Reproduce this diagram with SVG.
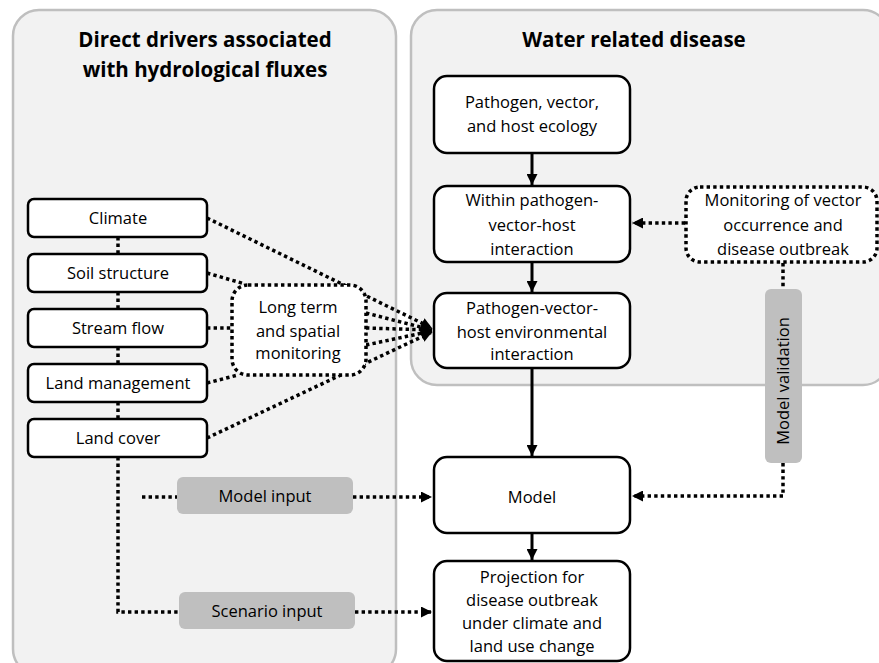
<svg xmlns="http://www.w3.org/2000/svg" width="879" height="663" viewBox="0 0 879 663">
<defs>
<style>
.panel{fill:#f2f2f2;stroke:#bfbfbf;stroke-width:2.5}
.box{fill:#fff;stroke:#000;stroke-width:2.5}
.dbox{fill:#fff;stroke:#000;stroke-width:3.5;stroke-dasharray:3.4 3.2}
.gbox{fill:#bfbfbf;stroke:none}
.t{font-family:"Open Sans","Noto Sans",sans-serif;font-size:16.5px;fill:#000;text-anchor:middle}
.h{font-family:"Open Sans","Noto Sans",sans-serif;font-size:20.5px;font-weight:bold;fill:#000;text-anchor:middle}
.solid{fill:none;stroke:#000;stroke-width:3}
.dot{fill:none;stroke:#000;stroke-width:3.5;stroke-dasharray:3.4 3.2}
</style>
<marker id="ah" viewBox="0 0 10 10" refX="10" refY="5" markerWidth="11" markerHeight="11" markerUnits="userSpaceOnUse" orient="auto">
<path d="M0,0 L10,5 L0,10 z" fill="#000"/>
</marker>
</defs>

<g id="panel-left">
<rect class="panel" x="13" y="10" width="383" height="665" rx="26"/>
<text class="h" x="205" y="47">Direct drivers associated</text>
<text class="h" x="205" y="77">with hydrological fluxes</text>
</g>
<g id="panel-right">
<rect class="panel" x="411" y="10" width="478" height="375" rx="26"/>
<text class="h" x="634" y="47">Water related disease</text>
</g>

<g id="connectors">
<path class="dot" d="M118,237 V254 M118,292 V309 M118,347 V364 M118,402 V419"/>
<path class="dot" d="M118,457 V612 H179"/>
<path class="dot" d="M142,497 H177"/>
<path class="dot" d="M353,497 H432" marker-end="url(#ah)"/>
<path class="dot" d="M355,612 H432" marker-end="url(#ah)"/>
<path class="dot" d="M207,218 L432,328" marker-end="url(#ah)"/>
<path class="dot" d="M207,273 L245,284"/>
<path class="dot" d="M207,328 H231"/>
<path class="dot" d="M207,383 L238,375"/>
<path class="dot" d="M207,438 L432,332" marker-end="url(#ah)"/>
<path class="dot" d="M366,313 L432,330" marker-end="url(#ah)"/>
<path class="dot" d="M366,328 L432,330" marker-end="url(#ah)"/>
<path class="dot" d="M366,345 L432,331" marker-end="url(#ah)"/>
<path class="solid" d="M532,153 V185" marker-end="url(#ah)"/>
<path class="solid" d="M532,262 V292" marker-end="url(#ah)"/>
<path class="solid" d="M532,368 V456" marker-end="url(#ah)"/>
<path class="solid" d="M532,533 V560" marker-end="url(#ah)"/>
<path class="dot" d="M685,223 H632" marker-end="url(#ah)"/>
<path class="dot" d="M783,263 V289"/>
<path class="dot" d="M783,463 V496 H632" marker-end="url(#ah)"/>
</g>

<g id="climate"><rect class="box" x="28" y="199" width="179" height="38" rx="6"/><text class="t" x="118" y="224">Climate</text></g>
<g id="soil"><rect class="box" x="28" y="254" width="179" height="38" rx="6"/><text class="t" x="118" y="279">Soil  structure</text></g>
<g id="stream"><rect class="box" x="28" y="309" width="179" height="38" rx="6"/><text class="t" x="118" y="334">Stream flow</text></g>
<g id="landmgmt"><rect class="box" x="28" y="364" width="179" height="38" rx="6"/><text class="t" x="118" y="389">Land management</text></g>
<g id="landcover"><rect class="box" x="28" y="419" width="179" height="38" rx="6"/><text class="t" x="118" y="444">Land cover</text></g>

<g id="longterm"><rect class="dbox" x="232" y="285" width="134" height="90" rx="16"/>
<text class="t" x="298" y="313">Long term</text><text class="t" x="298" y="337">and spatial</text><text class="t" x="298" y="359">monitoring</text></g>

<g id="ecology"><rect class="box" x="434" y="76" width="196" height="77" rx="13"/>
<text class="t" x="532" y="108">Pathogen, vector,</text><text class="t" x="532" y="132">and host ecology</text></g>
<g id="within"><rect class="box" x="434" y="186" width="196" height="76" rx="13"/>
<text class="t" x="532" y="206">Within pathogen-</text><text class="t" x="532" y="231">vector-host</text><text class="t" x="532" y="255">interaction</text></g>
<g id="envint"><rect class="box" x="434" y="293" width="196" height="75" rx="13"/>
<text class="t" x="532" y="314">Pathogen-vector-</text><text class="t" x="532" y="338">host environmental</text><text class="t" x="532" y="360">interaction</text></g>
<g id="monitoring"><rect class="dbox" x="686" y="187" width="191" height="75" rx="14"/>
<text class="t" x="783" y="206">Monitoring of vector</text><text class="t" x="783" y="231">occurrence and</text><text class="t" x="783" y="255">disease outbreak</text></g>
<g id="validation"><rect class="gbox" x="765" y="289" width="37" height="174" rx="6"/>
<text class="t" transform="translate(789,381) rotate(-90)" x="0" y="0">Model validation</text></g>
<g id="model"><rect class="box" x="434" y="457" width="196" height="76" rx="13"/><text class="t" x="532" y="503">Model</text></g>
<g id="projection"><rect class="box" x="434" y="561" width="196" height="100" rx="13"/>
<text class="t" x="532" y="583">Projection for</text><text class="t" x="532" y="606">disease outbreak</text><text class="t" x="532" y="629">under climate and</text><text class="t" x="532" y="652">land use change</text></g>
<g id="modelinput"><rect class="gbox" x="177" y="477" width="176" height="37" rx="6"/><text class="t" x="265" y="502">Model input</text></g>
<g id="scenarioinput"><rect class="gbox" x="179" y="592" width="176" height="37" rx="6"/><text class="t" x="267" y="617">Scenario input</text></g>
</svg>
